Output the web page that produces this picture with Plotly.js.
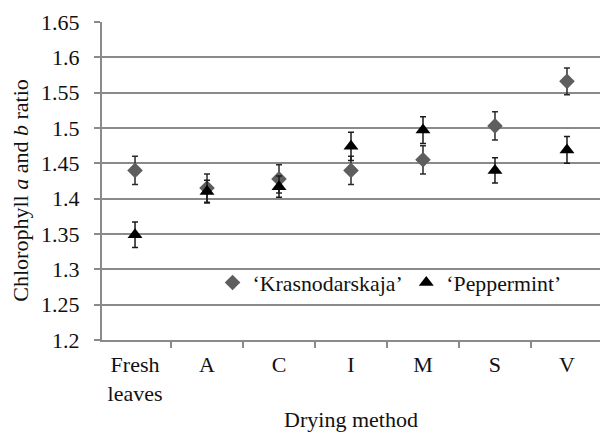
<!DOCTYPE html>
<html><head><meta charset="utf-8">
<script src="https://cdn.plot.ly/plotly-3.0.1.min.js"></script>
<style>html,body{margin:0;padding:0;background:#fff}#chart{width:601px;height:432px}</style>
</head><body><div id="chart"></div>
<script>
const categories = ["Fresh<br>leaves", "A", "C", "I", "M", "S", "V"];
const krasnodarskaja = [1.44, 1.415, 1.428, 1.44, 1.455, 1.503, 1.566];
const krasnodarskajaErr = [0.02, 0.02, 0.02, 0.02, 0.02, 0.02, 0.019];
const peppermint = [1.349, 1.41, 1.417, 1.474, 1.497, 1.44, 1.469];
const peppermintErr = [0.018, 0.016, 0.015, 0.02, 0.019, 0.018, 0.019];
const yTicks = [1.2, 1.25, 1.3, 1.35, 1.4, 1.45, 1.5, 1.55, 1.6, 1.65];

const FAM = "Liberation Serif";
function f(size) { return {family: FAM, size: size, color: "#111111"}; }
const traces = [
  {x: categories, y: krasnodarskaja, type: "scatter", mode: "markers", name: "‘Krasnodarskaja’",
   legend: "legend",
   marker: {symbol: "diamond", size: 12, color: "#5e5e5e"},
   error_y: {type: "data", array: krasnodarskajaErr, visible: true, color: "#2a2a2a", thickness: 1.5, width: 3}},
  {x: categories, y: peppermint, type: "scatter", mode: "markers", name: "‘Peppermint’",
   legend: "legend2",
   marker: {symbol: "triangle-up", size: 13, color: "#000000"},
   error_y: {type: "data", array: peppermintErr, visible: true, color: "#1a1a1a", thickness: 1.5, width: 3}}
];
const legendBase = {orientation: "h", yanchor: "middle", xanchor: "left", y: 0.18,
  bgcolor: "rgba(255,255,255,0)", font: f(21.8), itemwidth: 30};
const layout = {
  width: 601, height: 432,
  margin: {l: 102, r: 1, t: 22, b: 92},
  paper_bgcolor: "#fff", plot_bgcolor: "#fff",
  font: f(22),
  showlegend: true,
  legend: Object.assign({}, legendBase, {x: 0.222}),
  legend2: Object.assign({}, legendBase, {x: 0.611}),
  xaxis: {type: "category", showgrid: false, showline: true, linecolor: "#8a8a8a", linewidth: 2,
          ticks: "outside", ticklen: 6, tickcolor: "#8a8a8a", tickwidth: 2, tickson: "boundaries",
          tickfont: f(22), ticklabelstandoff: 4,
          title: {text: "Drying method", font: f(22), standoff: 12}},
  yaxis: {range: [1.2, 1.65], tickvals: yTicks, ticktext: yTicks.map(String),
          showgrid: true, gridcolor: "#8a8a8a", gridwidth: 2, zeroline: false,
          showline: true, linecolor: "#8a8a8a", linewidth: 2,
          ticks: "outside", ticklen: 6, tickcolor: "#8a8a8a", tickwidth: 2,
          tickfont: f(22), ticklabelstandoff: 10},
  annotations: [{text: "Chlorophyll <i>a</i> and <i>b</i> ratio", textangle: -90,
    xref: "paper", yref: "paper", x: -0.163, y: 0.469, xanchor: "center", yanchor: "middle",
    showarrow: false, font: f(22)}]
};
Plotly.newPlot("chart", traces, layout, {displayModeBar: false, staticPlot: true});
</script></body></html>
